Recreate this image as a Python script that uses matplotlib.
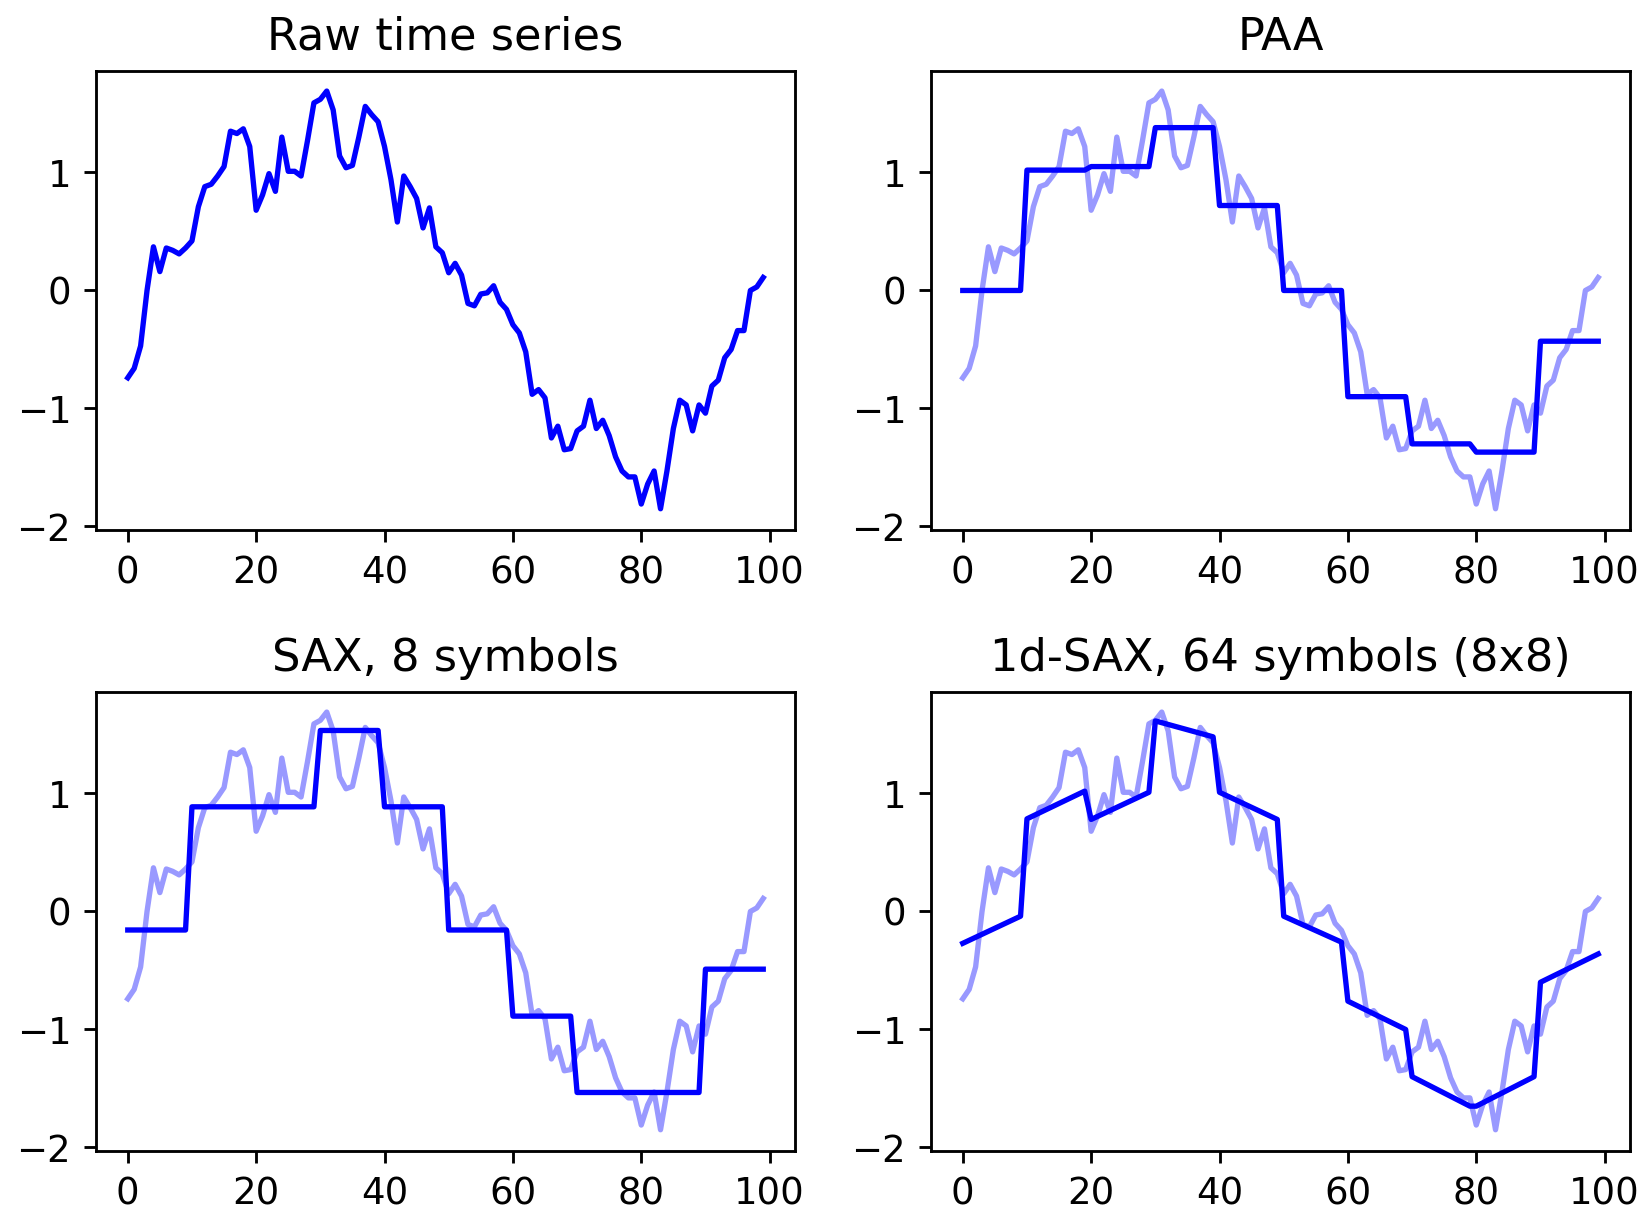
import numpy as np
import matplotlib
matplotlib.use("Agg")
import matplotlib.pyplot as plt

# ---- data ----
raw_values = [
    -0.74, -0.66, -0.47, 0.00, 0.37, 0.16, 0.36, 0.34, 0.31, 0.36,
    0.42, 0.71, 0.88, 0.90, 0.97, 1.05, 1.35, 1.33, 1.37, 1.22,
    0.68, 0.81, 0.99, 0.84, 1.30, 1.01, 1.01, 0.97, 1.27, 1.59,
    1.62, 1.69, 1.53, 1.14, 1.04, 1.06, 1.30, 1.56, 1.49, 1.43,
    1.22, 0.94, 0.58, 0.97, 0.88, 0.78, 0.53, 0.70, 0.37, 0.32,
    0.15, 0.23, 0.13, -0.11, -0.13, -0.03, -0.02, 0.04, -0.10, -0.16,
    -0.29, -0.36, -0.52, -0.88, -0.84, -0.91, -1.25, -1.15, -1.35, -1.34,
    -1.19, -1.15, -0.93, -1.17, -1.10, -1.23, -1.41, -1.53, -1.58, -1.58,
    -1.81, -1.64, -1.53, -1.85, -1.53, -1.17, -0.93, -0.97, -1.19, -0.97,
    -1.04, -0.81, -0.76, -0.57, -0.50, -0.34, -0.34, 0.00, 0.03, 0.11,
]

# segment boundaries (first and last index of each of the 10 segments)
seg_start = [0, 10, 20, 30, 40, 50, 60, 70, 80, 90]
seg_end = [9, 19, 29, 39, 49, 59, 69, 79, 89, 99]

paa_values = [0.00, 1.02, 1.05, 1.38, 0.72, 0.00, -0.90, -1.30, -1.37, -0.43]
sax_values = [-0.157, 0.887, 0.887, 1.534, 0.887, -0.157, -0.887, -1.534, -1.534, -0.489]
sax1d_start = [-0.27, 0.785, 0.78, 1.615, 1.01, -0.04, -0.76, -1.40, -1.65, -0.60]
sax1d_end = [-0.04, 1.02, 1.01, 1.48, 0.78, -0.26, -1.00, -1.65, -1.40, -0.36]

titles = ["Raw time series", "PAA", "SAX, 8 symbols", "1d-SAX, 64 symbols (8x8)"]
xticks = [0, 20, 40, 60, 80, 100]
yticks = [-2, -1, 0, 1]


def seg_xy(starts_y, ends_y):
    xs, ys = [], []
    for s, e, a, b in zip(seg_start, seg_end, starts_y, ends_y):
        xs += [s, e]
        ys += [a, b]
    return xs, ys


plt.rcParams["font.size"] = 10.4
plt.rcParams["axes.titlesize"] = 12.6

W, H, DPI = 1640, 1210, 256
fig = plt.figure(figsize=(W / DPI, H / DPI), dpi=DPI)

lefts = [96 / W, 931 / W]
width = 699 / W
tops_px = [71, 692]
height_px = 459
axes = []
for r in range(2):
    for c in range(2):
        bottom = 1 - (tops_px[r] + height_px) / H
        ax = fig.add_axes([lefts[c], bottom, width, height_px / H])
        axes.append(ax)

x = np.arange(len(raw_values))
ax = axes[0]
ax.plot(x, raw_values, "b-")

ax = axes[1]
ax.plot(x, raw_values, "b-", alpha=0.4)
px, py = seg_xy(paa_values, paa_values)
ax.plot(px, py, "b-")

ax = axes[2]
ax.plot(x, raw_values, "b-", alpha=0.4)
px, py = seg_xy(sax_values, sax_values)
ax.plot(px, py, "b-")

ax = axes[3]
ax.plot(x, raw_values, "b-", alpha=0.4)
px, py = seg_xy(sax1d_start, sax1d_end)
ax.plot(px, py, "b-")

for ax, t in zip(axes, titles):
    ax.set_title(t)
    ax.set_xticks(xticks)
    ax.set_yticks(yticks)
    ax.set_ylim(-2.03, 1.86)

fig.savefig("out.png", dpi=DPI)
